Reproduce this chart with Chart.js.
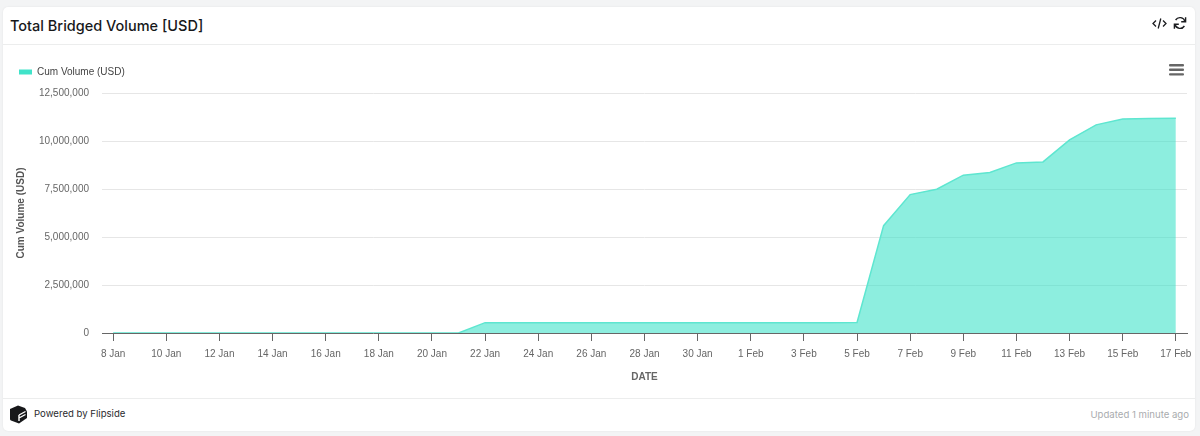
<!DOCTYPE html>
<html>
<head>
<meta charset="utf-8">
<title>Total Bridged Volume [USD]</title>
<script src="https://cdn.jsdelivr.net/npm/chart.js@4"></script>
<style>
    html, body { margin: 0; padding: 0; width: 1200px; height: 436px; overflow: hidden; background: #f3f4f5; }
    .card { position: absolute; left: 3px; top: 7px; width: 1192px; height: 424px; background: #fff; border-radius: 5px; box-shadow: 0 0 2px rgba(0,0,0,0.08); }
    .head { position: absolute; left: 3px; top: 44px; width: 1192px; height: 1px; background: #eceded; }
    .foot { position: absolute; left: 3px; top: 398px; width: 1192px; height: 1px; background: #eceded; }
    .title { position: absolute; left: 10px; top: 17px; font: 500 14.5px Inter, sans-serif; color: #17181a; white-space: nowrap; }
    .powered { position: absolute; left: 34px; top: 408px; font: 400 9.6px Inter, sans-serif; color: #2a2b2e; white-space: nowrap; }
    .updated { position: absolute; right: 11px; top: 409px; font: 400 9.6px Inter, sans-serif; color: #a9abae; white-space: nowrap; }
    .icon { position: absolute; }
    canvas { position: absolute; left: 0; top: 0; }
</style>
</head>
<body>
<div class="card"></div>
<div class="head"></div>
<div class="foot"></div>
<div class="title">Total Bridged Volume [USD]</div>
<svg class="icon" style="left:1152px;top:17px" width="15" height="13" viewBox="0 0 15 13" fill="none" stroke="#1c1d20" stroke-width="1.3">
    <path d="M4 3.5 L1 6.5 L4 9.5 M11 3.5 L14 6.5 L11 9.5 M8.8 1.5 L6.2 11.5"/>
</svg>
<svg class="icon" style="left:1173px;top:16px" width="14" height="14" viewBox="0 0 14 14" fill="none" stroke="#1c1d20" stroke-width="1.4">
    <path d="M12 5.5 A5.2 5.2 0 0 0 2.6 4 M2 8.5 A5.2 5.2 0 0 0 11.4 10"/>
    <path d="M12.6 1.2 V5.8 H8.2 M1.4 12.8 V8.2 H5.8"/>
</svg>
<svg class="icon" style="left:1169px;top:64px" width="15" height="12" viewBox="0 0 15 12" fill="#666">
    <rect x="0" y="0" width="15" height="2.4" rx="1"/>
    <rect x="0" y="4.6" width="15" height="2.4" rx="1"/>
    <rect x="0" y="9.2" width="15" height="2.4" rx="1"/>
</svg>
<svg class="icon" style="left:10px;top:405px" width="18" height="19" viewBox="0 0 18 19">
    <path d="M8 0.5 L15 3 L17 6.5 V13 L9 18.5 L1 15.5 Q0 15 0 14 V4 Z" fill="#17181a"/>
    <path d="M9 10 L15.5 6.5 M9 13 L15.5 9.5 M9 10 V16" stroke="#fff" stroke-width="1.4" fill="none"/>
</svg>
<div class="powered">Powered by Flipside</div>
<div class="updated">Updated 1 minute ago</div>
<canvas id="chart" width="1200" height="436"></canvas>
<script>
// Values
const dates = ['8 Jan', '9 Jan', '10 Jan', '11 Jan', '12 Jan', '13 Jan', '14 Jan', '15 Jan', '16 Jan', '17 Jan',
    '18 Jan', '19 Jan', '20 Jan', '21 Jan', '22 Jan', '23 Jan', '24 Jan', '25 Jan', '26 Jan', '27 Jan',
    '28 Jan', '29 Jan', '30 Jan', '31 Jan', '1 Feb', '2 Feb', '3 Feb', '4 Feb', '5 Feb', '6 Feb',
    '7 Feb', '8 Feb', '9 Feb', '10 Feb', '11 Feb', '12 Feb', '13 Feb', '14 Feb', '15 Feb', '16 Feb', '17 Feb'];
const cumVolume = [0, 0, 0, 0, 0, 0, 0, 0, 0, 0,
    0, 0, 0, 0, 540000, 540000, 540000, 540000, 540000, 540000,
    540000, 540000, 540000, 540000, 540000, 540000, 540000, 540000, 550000, 5590000,
    7210000, 7490000, 8220000, 8360000, 8860000, 8910000, 10060000, 10840000, 11150000, 11170000, 11190000];
const yTicks = [0, 2500000, 5000000, 7500000, 10000000, 12500000];

const labelFont = { family: '"Liberation Sans", Arial, sans-serif', size: 10 };
const titleFont = { family: '"Liberation Sans", Arial, sans-serif', size: 10, weight: 'bold' };

// Extra gap under the legend
const legendGap = {
    id: 'legendGap',
    beforeInit(chart) {
        const fit = chart.legend.fit;
        chart.legend.fit = function () {
            fit.call(this);
            this.height += 6;
        };
    }
};

new Chart(document.getElementById('chart').getContext('2d'), {
    type: 'line',
    plugins: [legendGap],
    data: {
        datasets: [{
            label: 'Cum Volume (USD)',
            data: dates.map((d, i) => ({ x: i, y: cumVolume[i] })),
            borderColor: '#5ee6d0',
            borderWidth: 1.5,
            backgroundColor: 'rgba(47,224,196,0.55)',
            fill: 'origin',
            pointRadius: 0,
            tension: 0
        }]
    },
    options: {
        responsive: false,
        animation: false,
        devicePixelRatio: 1,
        layout: { padding: { left: 3, right: 13, top: 51, bottom: 50 } },
        plugins: {
            tooltip: { enabled: false },
            legend: {
                align: 'start',
                labels: {
                    boxWidth: 13,
                    boxHeight: 5,
                    padding: 16,
                    font: labelFont,
                    generateLabels: chart => [{
                        text: chart.data.datasets[0].label,
                        fillStyle: '#40e3c9',
                        strokeStyle: '#40e3c9',
                        fontColor: '#444',
                        lineWidth: 0,
                        datasetIndex: 0
                    }]
                }
            }
        },
        scales: {
            x: {
                type: 'linear',
                min: -0.42,
                max: 40.42,
                afterBuildTicks: scale => {
                    scale.ticks = dates.map((d, i) => ({ value: i })).filter(t => t.value % 2 === 0);
                },
                grid: { drawOnChartArea: false, drawTicks: true, tickLength: 8, tickColor: '#666' },
                border: { color: '#666', width: 1 },
                ticks: {
                    color: '#666',
                    font: labelFont,
                    padding: 7,
                    maxRotation: 0,
                    autoSkip: false,
                    callback: value => dates[value]
                },
                title: { display: true, text: 'DATE', color: '#666', font: titleFont, padding: { top: 0, bottom: 3 } },
                afterFit: scale => { scale.height = 53; }
            },
            y: {
                min: 0,
                max: 12500000,
                afterBuildTicks: scale => { scale.ticks = yTicks.map(v => ({ value: v })); },
                grid: { color: '#e6e6e6', drawTicks: false },
                border: { display: false },
                ticks: {
                    color: '#666',
                    font: labelFont,
                    padding: 13,
                    callback: value => value.toLocaleString('en-US')
                },
                title: { display: true, text: 'Cum Volume (USD)', color: '#555', font: titleFont, padding: { top: 12, bottom: 0 } },
                afterFit: scale => { scale.width = 99; }
            }
        }
    }
});
</script>
</body>
</html>
